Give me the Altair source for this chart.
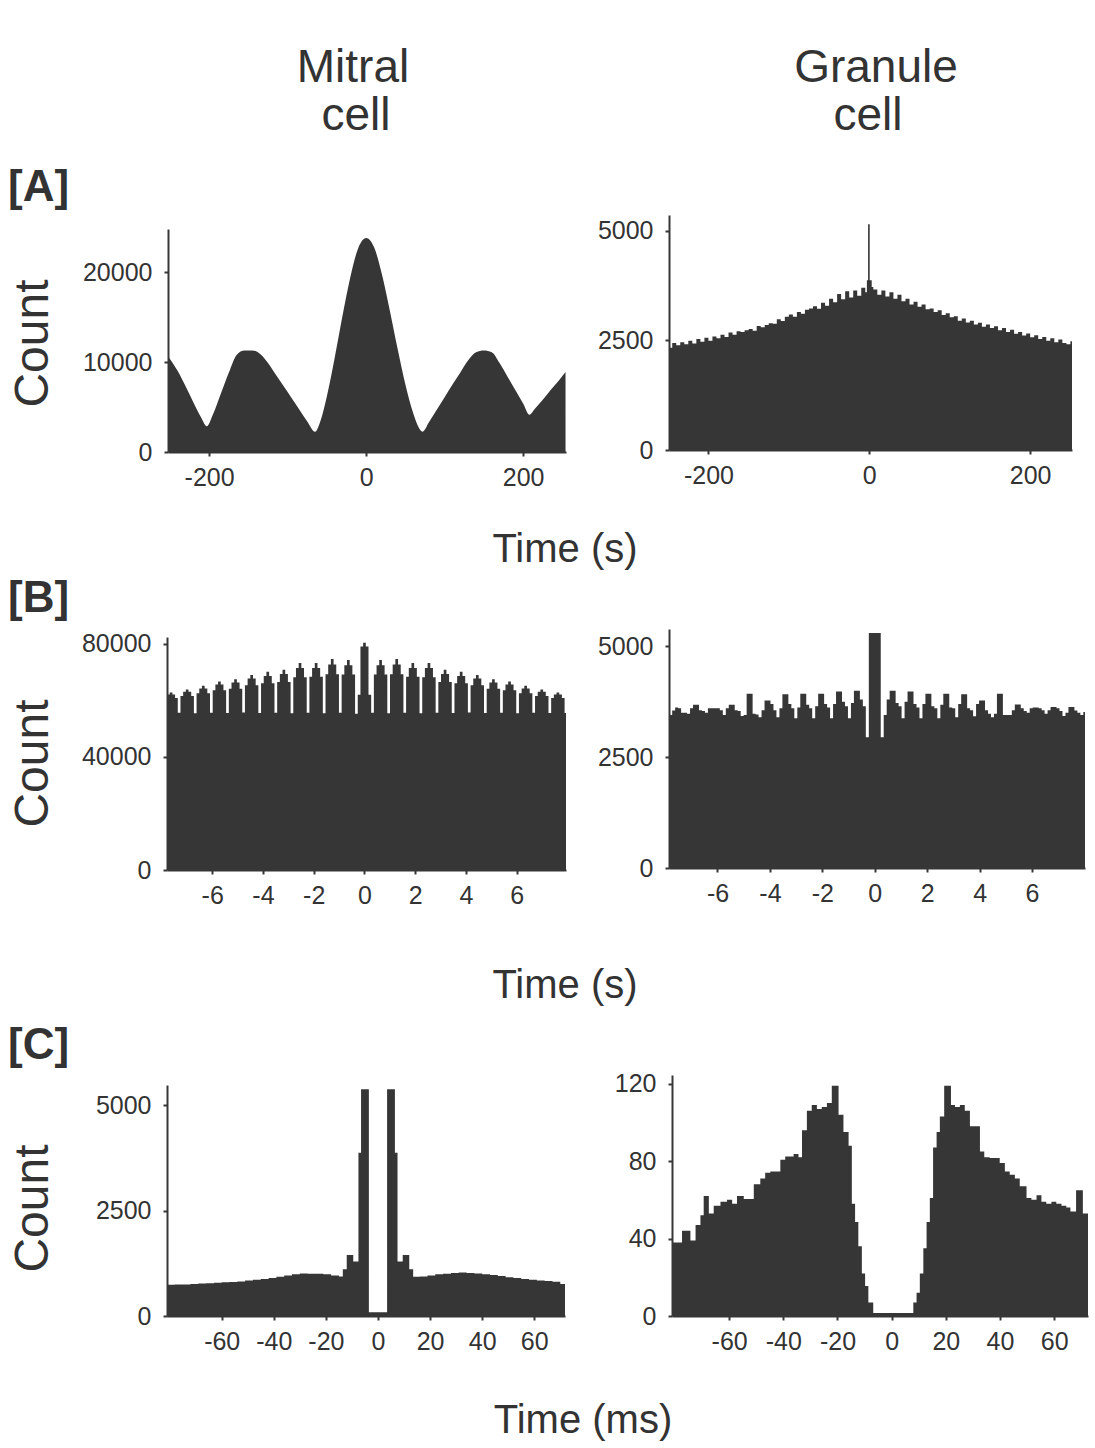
import altair as alt
import pandas as pd

W, H = 1095, 1448
INK = "#363636"
TXT = "#333333"
FONT = "Liberation Sans"

# ---------------- [A] spike-time correlograms, lag in ms ----------------
# Mitral cell: smooth correlogram, sampled at its turning points and flanks
a_mitral_t = [-252, -240, -230, -220, -210, -203, -195, -185, -175, -165, -155,
              -145, -135, -125, -115, -105, -95, -85, -75, -65, -58, -50, -40,
              -30, -20, -10, 0, 10, 20, 30, 40, 50, 60, 66, 72, 80, 90, 100,
              110, 120, 130, 140, 150, 160, 170, 180, 190, 200, 208, 215, 225,
              235, 245, 254]
a_mitral_n = [10600, 9000, 7300, 5500, 3800, 2860, 4200, 6500, 8800, 10800, 11300,
              11300, 10900, 9900, 8600, 7300, 6000, 4700, 3400, 2260, 3500, 6200, 10500,
              15200, 19500, 22700, 23800, 22800, 19800, 15800, 11500, 7500, 4300, 2900, 2260,
              3300, 4700, 6100, 7500, 8850, 10200, 11100, 11300, 11100, 9900, 8400, 6900,
              5400, 4150, 4800, 5800, 6900, 7900, 8900]

# Granule cell: left bin edges (ms) and counts, narrow bin at zero lag
a_granule_t = [-250, -245, -240, -235, -230, -225, -220, -215, -210, -205,
               -200, -195, -190, -185, -180, -175, -170, -165, -160, -155,
               -150, -145, -140, -135, -130, -125, -120, -115, -110, -105,
               -100, -95, -90, -85, -80, -75, -70, -65, -60, -55,
               -50, -45, -40, -35, -30, -25, -20, -15, -10, -5,
               -3, -1.5, 0.5, 3,
               5, 10, 15, 20, 25, 30, 35, 40, 45, 50,
               55, 60, 65, 70, 75, 80, 85, 90, 95, 100,
               105, 110, 115, 120, 125, 130, 135, 140, 145, 150,
               155, 160, 165, 170, 175, 180, 185, 190, 195, 200,
               205, 210, 215, 220, 225, 230, 235, 240, 245, 250,
               252]
a_granule_n = [2330, 2440, 2390, 2460, 2410, 2490, 2430, 2530, 2470, 2560,
               2490, 2590, 2550, 2630, 2580, 2680, 2630, 2710, 2690, 2730,
               2760, 2720, 2830, 2800, 2850, 2890, 2880, 2980, 2940, 3040,
               3090, 3040, 3150, 3110, 3200, 3230, 3280, 3220, 3360, 3290,
               3450, 3370, 3560, 3440, 3620, 3480, 3640, 3520, 3700, 3600,
               3870, 5150, 3870, 3720,
               3660, 3540, 3640, 3500, 3600, 3450, 3540, 3390, 3450, 3320,
               3380, 3270, 3320, 3210, 3230, 3150, 3190, 3080, 3120, 3030,
               3050, 2950, 3000, 2910, 2950, 2860, 2900, 2810, 2860, 2780,
               2820, 2730, 2780, 2690, 2740, 2650, 2690, 2610, 2660, 2570,
               2620, 2530, 2580, 2490, 2550, 2460, 2520, 2440, 2410, 2480,
               2480]

# ---------------- [B] correlograms over seconds ----------------
# Mitral cell: six bins per 0.635 s breathing cycle, one row per cycle
# (bin order: trough, low shoulder, high shoulder, crest, high shoulder, low shoulder)
B_MITRAL_CYCLE = 0.635
B_MITRAL_FIRST_CYCLE = -12
b_mitral_rows = [
    [55500, 60800, 62100, 62800, 62100, 60800],
    [55600, 61500, 63000, 63800, 63000, 61500],
    [55400, 62500, 64200, 65200, 64200, 62500],
    [55600, 63600, 65600, 66700, 65600, 63600],
    [55500, 64100, 66300, 67500, 66300, 64100],
    [55700, 65300, 67700, 69000, 67700, 65300],
    [55500, 66000, 68600, 70100, 68600, 66000],
    [55600, 66500, 69300, 70800, 69300, 66500],
    [55400, 68200, 71400, 73200, 71400, 68200],
    [55600, 68300, 71400, 73200, 71400, 68300],
    [55400, 69200, 72700, 74600, 72700, 69200],
    [55600, 69100, 72400, 74300, 72400, 69100],
    [55300, 62000, 79000, 80400, 79000, 62000],
    [55600, 69100, 72400, 74300, 72400, 69100],
    [55400, 69200, 72700, 74600, 72700, 69200],
    [55600, 68300, 71400, 73200, 71400, 68300],
    [55400, 68200, 71400, 73200, 71400, 68200],
    [55600, 66500, 69300, 70800, 69300, 66500],
    [55500, 66000, 68600, 70100, 68600, 66000],
    [55700, 65300, 67700, 69000, 67700, 65300],
    [55500, 64100, 66300, 67500, 66300, 64100],
    [55600, 63600, 65600, 66700, 65600, 63600],
    [55400, 62500, 64200, 65200, 64200, 62500],
    [55600, 61500, 63000, 63800, 63000, 61500],
    [55500, 60800, 62100, 62800, 62100, 60800],
    [55500, 60300, 61400, 62000, 61400, 60300],
]

# Granule cell: six bins per 0.682 s cycle, one row per cycle
# (bin order: trough, shoulder, crest, crest, shoulder, shoulder)
B_GRANULE_CYCLE = 0.682
B_GRANULE_FIRST_CYCLE = -11
b_granule_rows = [
    [3450, 3550, 3620, 3600, 3500, 3500],
    [3480, 3600, 3680, 3680, 3560, 3540],
    [3500, 3600, 3600, 3600, 3600, 3560],
    [3450, 3600, 3680, 3680, 3560, 3540],
    [3430, 3450, 3930, 3930, 3480, 3460],
    [3400, 3560, 3780, 3780, 3700, 3560],
    [3400, 3600, 3920, 3920, 3700, 3600],
    [3380, 3620, 3930, 3930, 3680, 3600],
    [3380, 3650, 3930, 3930, 3700, 3620],
    [3380, 3700, 3980, 3980, 3750, 3650],
    [3380, 3720, 4000, 4000, 3800, 3650],
    [2950, 5300, 5300, 5300, 5300, 2950],
    [3450, 3800, 4000, 4000, 3720, 3650],
    [3380, 3750, 3980, 3980, 3700, 3620],
    [3380, 3700, 3930, 3930, 3650, 3600],
    [3380, 3680, 3930, 3930, 3620, 3600],
    [3400, 3700, 3920, 3920, 3600, 3560],
    [3420, 3700, 3780, 3780, 3560, 3480],
    [3400, 3480, 3930, 3930, 3450, 3450],
    [3450, 3560, 3690, 3690, 3600, 3540],
    [3500, 3600, 3620, 3620, 3600, 3560],
    [3480, 3560, 3630, 3630, 3600, 3540],
    [3430, 3500, 3630, 3630, 3550, 3500],
    [3450, 3520, 3600, 3600, 3550, 3500],
]

# ---------------- [C] short-lag correlograms, ms ----------------
c_mitral_t = [-81, -78, -75, -72, -69, -66, -63, -60, -57, -54, -51, -48, -45, -42,
              -39, -36, -33, -30, -27, -24, -21, -18, -15,
              -13.5, -12, -9.5, -7.5, -6.5, -3.5,
              3.5, 6.5, 7.5, 9.5, 12, 13.5,
              16, 19, 22, 25, 28, 31, 34, 37, 40, 43, 46, 49, 52, 55, 58, 61, 64, 67, 70,
              72.3]
c_mitral_n = [740, 750, 745, 760, 770, 775, 790, 800, 805, 820, 840, 860, 880, 900,
              930, 960, 990, 1010, 1000, 1005, 990, 960, 940,
              1110, 1450, 1290, 3870, 5380, 90,
              5380, 3870, 1290, 1450, 1110, 930,
              940, 960, 990, 1000, 1020, 1030, 1020, 1010, 990, 970, 950, 920, 900, 880,
              860, 840, 830, 810, 760,
              760]

c_granule_t = [-81, -77.4, -74.3, -72.4, -70.6, -69.4, -67.5, -65.7, -63.2, -60.8,
               -58.9, -57.1, -54.6, -50.9, -48.5, -46.7, -44.8, -41.1, -39.3, -36.2,
               -34.4, -33.1, -31.3, -29.5, -27.6, -25.8, -23.9, -22.1, -19.6, -17.8,
               -15.9, -14.7, -13.5, -12.3, -11.0, -9.8, -8.6, -6.8,
               8.0, 9.2, 10.4, 11.7, 12.9, 14.1, 15.3, 16.6, 17.8, 19.4,
               21.9, 23.4, 25.2, 27.0, 28.9, 30.7, 32.6, 34.2, 36.2, 38.1,
               39.9, 41.8, 43.6, 45.5, 47.3, 49.8, 51.6, 53.5, 55.3, 57.1,
               59.0, 60.8, 62.7, 64.5, 66.0, 68.1, 70.6, 72.5]
c_granule_n = [38, 44, 39, 47, 52, 62, 53, 57, 59, 60,
               58, 62, 60.5, 68, 71, 74, 74.6, 80.7, 82.4, 83.7,
               82, 96, 106, 109, 107, 108, 110, 119, 104, 95,
               88, 58, 48.5, 36, 22, 15.5, 7, 1.5,
               7, 12, 22, 35, 48.5, 61, 87, 95, 103, 119,
               109, 108, 109, 106, 98, 98, 85, 82, 81.6, 81.6,
               79, 74.6, 73, 71, 67, 61, 60, 62.4, 59, 58,
               59, 58, 57, 56, 54, 65, 53, 53]

# tick values
ticks_a = [-200, 0, 200]
ticks_b = [-6, -4, -2, 0, 2, 4, 6]
ticks_c = [-60, -40, -20, 0, 20, 40, 60]


def cycle_table(rows, cycle, first_cycle, centred):
    """Bin edges on a regular grid of one sixth of a cycle; counts from the rows."""
    w = cycle / 6.0
    t, n = [], []
    for i, row in enumerate(rows):
        for k, v in enumerate(row):
            j = 6 * (first_cycle + i) + (k - 3)
            t.append((j - 0.5) * w if centred else j * w)
            n.append(v)
    t.append(t[-1] + w)
    n.append(n[-1])
    return t, n


b_mitral_t, b_mitral_n = cycle_table(b_mitral_rows, B_MITRAL_CYCLE, B_MITRAL_FIRST_CYCLE, True)
b_granule_t, b_granule_n = cycle_table(b_granule_rows, B_GRANULE_CYCLE, B_GRANULE_FIRST_CYCLE, False)


def axis_style(**kw):
    return dict(
        title=None, grid=False, labelExpr="'' + datum.value",
        labelFont=FONT, labelFontSize=25, labelColor=TXT,
        labelOverlap=False, labelFlush=False, labelBound=False,
        domainColor=INK, domainWidth=2, tickColor=INK, tickWidth=2, tickSize=4,
        zindex=1, **kw,
    )


def panel(t, n, xdom, ydom, xpix, ypix, xticks, yticks, interp="step-after"):
    df = pd.DataFrame({"t": [float(v) for v in t], "n": [float(v) for v in n]})
    return alt.Chart(df).mark_area(interpolate=interp, fill=INK, stroke=None).encode(
        x=alt.X("t:Q",
                scale=alt.Scale(domain=xdom, range=xpix, nice=False, zero=False, clamp=True),
                axis=alt.Axis(**axis_style(orient="bottom", offset=ypix[0] - H,
                                           values=xticks, labelPadding=9))),
        y=alt.Y("n:Q", stack=None,
                scale=alt.Scale(domain=ydom, range=ypix, nice=False, zero=True),
                axis=alt.Axis(**axis_style(orient="left", offset=-xpix[0],
                                           values=yticks, labelPadding=12))),
    )


def label(text, x, y, size, angle=0, align="center", weight="normal"):
    return alt.Chart(pd.DataFrame({"s": [text]})).mark_text(
        font=FONT, fontSize=size, fontWeight=weight, color=TXT,
        align=align, baseline="alphabetic", angle=angle,
    ).encode(x=alt.value(x), y=alt.value(y), text="s:N")


panels = [
    panel(a_mitral_t, a_mitral_n, [-252.4, 254.6], [0, 24800], [168, 566], [452, 229],
          ticks_a, [0, 10000, 20000], interp="monotone"),
    panel(a_granule_t, a_granule_n, [-249, 252], [0, 5360], [669, 1072], [450, 215],
          ticks_a, [0, 2500, 5000]),
    panel(b_mitral_t, b_mitral_n, [-7.78, 7.94], [0, 82400], [167, 566], [870, 637],
          ticks_b, [0, 40000, 80000]),
    panel(b_granule_t, b_granule_n, [-7.85, 8.02], [0, 5390], [669, 1085], [868, 629],
          ticks_b, [0, 2500, 5000]),
    panel(c_mitral_t, c_mitral_n, [-81, 71.8], [0, 5480], [167, 565], [1316, 1085],
          ticks_c, [0, 2500, 5000]),
    panel(c_granule_t, c_granule_n, [-81.1, 72.5], [0, 124.5], [672, 1088], [1316, 1075],
          ticks_c, [0, 40, 80, 120]),
]

texts = [
    label("Mitral", 353, 82, 46),
    label("cell", 356, 130, 46),
    label("Granule", 876, 82, 46),
    label("cell", 868, 130, 46),
    label("[A]", 8, 201, 44, align="left", weight="bold"),
    label("[B]", 8, 612, 44, align="left", weight="bold"),
    label("[C]", 8, 1059, 44, align="left", weight="bold"),
    label("Count", 48, 343.5, 48, angle=270),
    label("Count", 48, 763.5, 48, angle=270),
    label("Count", 48, 1208.5, 48, angle=270),
    label("Time (s)", 565, 562, 40),
    label("Time (s)", 565, 998, 40),
    label("Time (ms)", 583, 1433, 40),
]

chart = (
    alt.layer(*panels, *texts)
    .resolve_scale(x="independent", y="independent")
    .properties(width=W, height=H, padding=0,
                autosize=alt.AutoSizeParams(type="none"), background="white")
    .configure_view(stroke=None)
)

chart.save("out.html", embed_options={"renderer": "svg", "actions": False})
